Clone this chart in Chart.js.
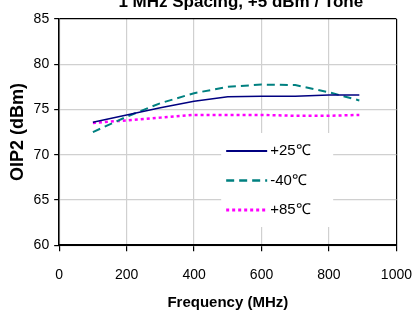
<!DOCTYPE html>
<html>
<head>
<meta charset="utf-8">
<script src="https://cdn.jsdelivr.net/npm/chart.js@4/dist/chart.umd.min.js"></script>
<style>
  html, body { margin: 0; padding: 0; background: #fff; overflow: hidden; }
  #contenedor { width: 412px; height: 320px; overflow: hidden; }
</style>
</head>
<body>
<div id="contenedor"><canvas id="myChart" width="428" height="320"></canvas></div>
<script>
// Datos
const titulo = '1 MHz Spacing, +5 dBm / Tone';
const frecuencias = [100, 200, 300, 400, 500, 600, 700, 800, 890];
const oip2Mas25 = [73.6, 74.4, 75.2, 75.9, 76.4, 76.45, 76.45, 76.6, 76.6];
const oip2Menos40 = [72.5, 74.2, 75.7, 76.8, 77.5, 77.75, 77.7, 76.9, 76.0];
const oip2Mas85 = [73.5, 73.8, 74.1, 74.4, 74.4, 74.4, 74.3, 74.3, 74.4];
const etiquetas = ['+25℃', '-40℃', '+85℃'];

const fuente = '"Liberation Sans", Arial, sans-serif';
const gris = '#d0d0d0';

// pares {x, y} para la escala lineal
function puntos(valores) {
  return frecuencias.map((f, i) => ({ x: f, y: valores[i] }));
}

// Titulo cortado arriba, como en la imagen
const tituloPlugin = {
  id: 'tituloArriba',
  afterDraw(chart) {
    const { ctx, chartArea: a } = chart;
    ctx.save();
    ctx.font = 'bold 17px ' + fuente;
    ctx.fillStyle = '#000';
    ctx.textAlign = 'center';
    ctx.textBaseline = 'alphabetic';
    ctx.fillText(titulo, (a.left + a.right) / 2 + 13, a.top - 12);
    ctx.restore();
  }
};

// Leyenda dentro del area del grafico
const leyendaPlugin = {
  id: 'leyendaInterna',
  afterDatasetsDraw(chart) {
    const { ctx, chartArea: a } = chart;
    const x0 = a.left + 162, y0 = a.top + 114;
    ctx.save();
    ctx.fillStyle = '#fff';
    ctx.fillRect(x0, y0, 112, 94);
    chart.data.datasets.forEach((ds, i) => {
      const y = y0 + 18 + i * 29.5;
      ctx.beginPath();
      ctx.strokeStyle = ds.borderColor;
      ctx.lineWidth = ds.borderWidth + 0.5;
      ctx.setLineDash(ds.borderDash || []);
      ctx.moveTo(x0 + 5, y);
      ctx.lineTo(x0 + 46, y);
      ctx.stroke();
      ctx.setLineDash([]);
      ctx.fillStyle = '#000';
      ctx.font = '15px ' + fuente;
      ctx.textAlign = 'left';
      ctx.textBaseline = 'middle';
      ctx.fillText(ds.label, x0 + 49, y);
    });
    ctx.restore();
  }
};

const ctx = document.getElementById('myChart').getContext('2d');
const chart = new Chart(ctx, {
  type: 'line',
  data: {
    datasets: [
      { label: etiquetas[0], data: puntos(oip2Mas25), borderColor: '#000080', borderWidth: 1.5 },
      { label: etiquetas[1], data: puntos(oip2Menos40), borderColor: '#008080', borderWidth: 2, borderDash: [8, 5] },
      { label: etiquetas[2], data: puntos(oip2Mas85), borderColor: '#ff00ff', borderWidth: 2.5, borderDash: [3, 3] }
    ]
  },
  options: {
    responsive: false,
    animation: false,
    devicePixelRatio: 1,
    layout: { padding: { top: 19, left: 1, right: 0, bottom: 8 } },
    elements: { point: { radius: 0 }, line: { tension: 0, fill: false } },
    plugins: {
      legend: { display: false },
      title: { display: false },
      tooltip: { enabled: false }
    },
    scales: {
      x: {
        type: 'linear',
        min: 0,
        max: 1000,
        ticks: {
          stepSize: 200,
          color: '#000',
          font: { family: fuente, size: 14 },
          padding: 16,
          callback: v => String(v)
        },
        grid: {
          color: c => (c.tick && c.tick.value === 1000 ? '#000' : gris),
          lineWidth: 1.2,
          tickColor: '#000',
          tickLength: 6
        },
        border: { color: '#000', width: 2 },
        title: {
          display: true,
          text: 'Frequency (MHz)',
          color: '#000',
          font: { family: fuente, size: 15, weight: 'bold' },
          padding: { top: -6, bottom: 0 }
        }
      },
      y: {
        min: 60,
        max: 85,
        ticks: { stepSize: 5, color: '#000', font: { family: fuente, size: 14 }, padding: 5 },
        grid: {
          color: c => (c.tick && c.tick.value === 85 ? '#000' : gris),
          lineWidth: 1.2,
          tickColor: '#000',
          tickLength: 5
        },
        border: { color: '#000', width: 1.5 },
        title: {
          display: true,
          text: 'OIP2 (dBm)',
          color: '#000',
          font: { family: fuente, size: 18, weight: 'bold' },
          padding: { top: 6, bottom: 0 }
        }
      }
    }
  },
  plugins: [tituloPlugin, leyendaPlugin]
});
</script>
</body>
</html>
